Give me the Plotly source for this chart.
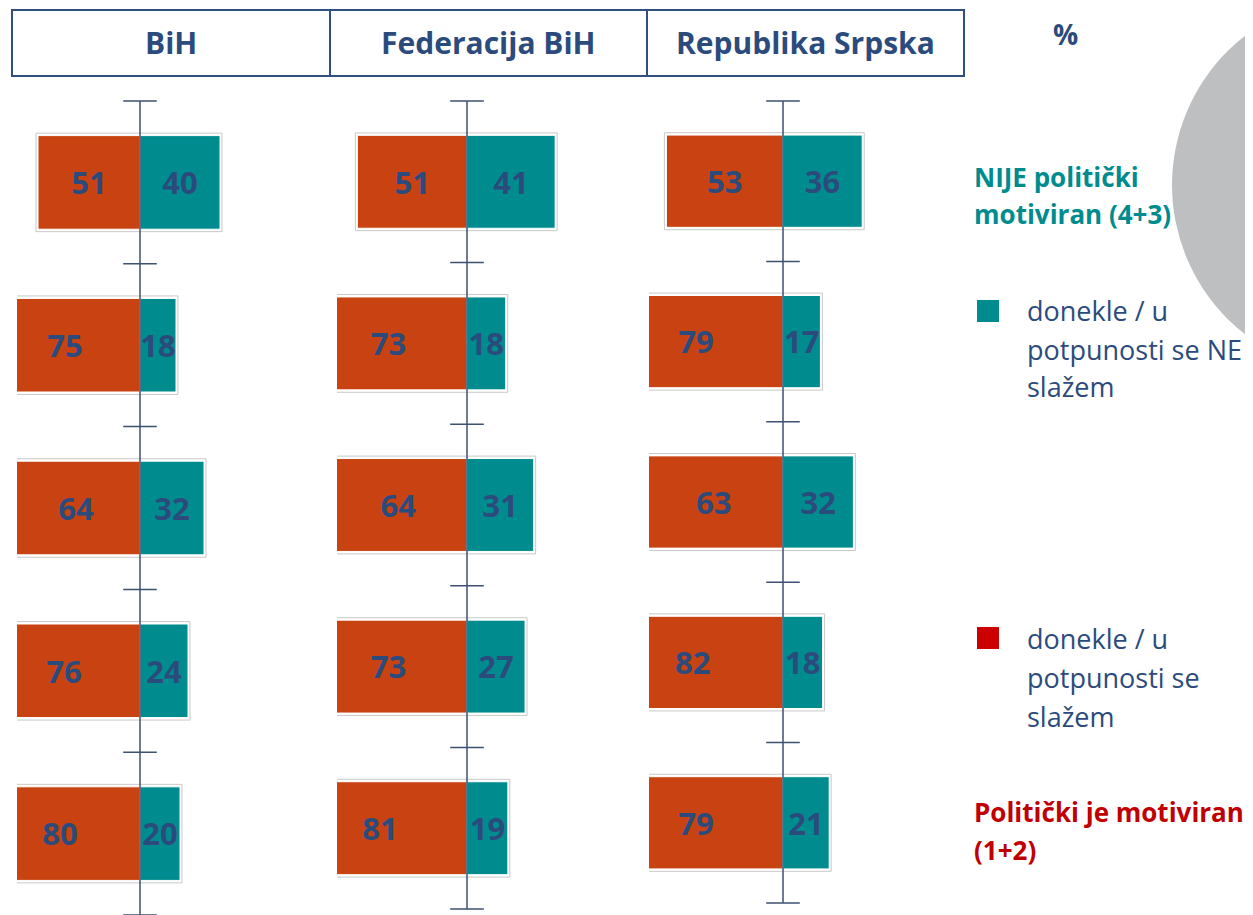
import plotly.graph_objects as go

W, H = 1253, 915
OFF = 8  # page body margin in the browser

# ---------------- data ----------------
regions = ["BiH", "Federacija BiH", "Republika Srpska"]
rows = [0, 1, 2, 3, 4]
agree = {
    "BiH": [51, 75, 64, 76, 80],
    "Federacija BiH": [51, 73, 64, 73, 81],
    "Republika Srpska": [53, 79, 63, 82, 79],
}
disagree = {
    "BiH": [40, 18, 32, 24, 20],
    "Federacija BiH": [41, 18, 31, 27, 19],
    "Republika Srpska": [36, 17, 32, 18, 21],
}
legend_teal_title = ["NIJE politički", "motiviran (4+3)"]
legend_teal_text = ["donekle / u", "potpunosti se NE", "slažem"]
legend_red_text = ["donekle / u", "potpunosti se", "slažem"]
legend_red_title = ["Politički je motiviran", "(1+2)"]

# ---------------- style ----------------
ORANGE = "#C84311"
TEAL = "#008C8E"
NAVY = "#2C4B7D"
AXIS = "#3D5170"
RED = "#C00000"
FONT = "Open Sans"

# panel geometry in pixels: (left, zero, right, bottom, px per unit)
panels = [
    (17, 140, 330, 915, 2.0),
    (337, 467, 647, 909, 2.15),
    (649, 783, 964, 903, 2.2),
]
TOP = 101
FW, FH = W - OFF, H - OFF
TEXT_DROP_PX = 4

def fx(px):
    return (px - OFF) / FW

def fy(py):
    return 1 - (py - OFF) / FH

fig = go.Figure()

for i, reg in enumerate(regions):
    left, zero, right, bottom, scale = panels[i]
    ax = "" if i == 0 else str(i + 1)
    xa, ya = "x" + ax, "y" + ax
    a = agree[reg]
    d = disagree[reg]
    pad = 2.0 / scale
    px_per_row = (bottom - TOP) / len(rows)
    dy = TEXT_DROP_PX / px_per_row
    # outline box
    fig.add_trace(go.Bar(
        orientation="h", y=rows, x=[p + q + 2 * pad for p, q in zip(a, d)],
        base=[-p - pad for p in a], width=0.605,
        marker=dict(color="white", line=dict(color="#C9C9C9", width=1)),
        xaxis=xa, yaxis=ya, showlegend=False, hoverinfo="skip"))
    fig.add_trace(go.Bar(
        orientation="h", y=rows, x=a, base=[-p for p in a], width=0.575,
        marker=dict(color=ORANGE, line=dict(color="white", width=1)),
        xaxis=xa, yaxis=ya, showlegend=False))
    fig.add_trace(go.Bar(
        orientation="h", y=rows, x=d, base=[0] * len(d), width=0.575,
        marker=dict(color=TEAL, line=dict(color="white", width=1)),
        xaxis=xa, yaxis=ya, showlegend=False))
    # axis line and ticks
    bounds = [r - 0.5 for r in rows] + [rows[-1] + 0.5]
    fig.add_trace(go.Scatter(
        x=[0, 0], y=[bounds[0], bounds[-1]], mode="lines",
        line=dict(color=AXIS, width=1.5), cliponaxis=False,
        xaxis=xa, yaxis=ya, showlegend=False, hoverinfo="skip"))
    fig.add_trace(go.Scatter(
        x=[0] * len(bounds), y=bounds, mode="markers",
        marker=dict(symbol="line-ew", size=24, line=dict(color=AXIS, width=1.5)),
        cliponaxis=False, xaxis=xa, yaxis=ya, showlegend=False, hoverinfo="skip"))
    # value labels
    fig.add_trace(go.Scatter(
        x=[-p / 2 for p in a] + [q / 2 for q in d], y=[r + dy for r in rows + rows],
        mode="text", text=[str(v) for v in a + d],
        textfont=dict(family=FONT, size=31, color=NAVY, weight="bold"),
        cliponaxis=False, xaxis=xa, yaxis=ya, showlegend=False, hoverinfo="skip"))

    xr = [(left - zero) / scale, (right - zero) / scale]
    fig.update_layout(**{
        "xaxis" + ax: dict(domain=[fx(left), fx(right)], range=xr, visible=False,
                           anchor=ya, fixedrange=True),
        "yaxis" + ax: dict(domain=[max(0, fy(bottom)), fy(TOP)], range=[4.5, -0.5],
                           visible=False, anchor=xa, fixedrange=True),
    })

shapes = []
# grey circle on the right
shapes.append(dict(type="circle", xref="paper", yref="paper",
                   x0=fx(1361 - 189), x1=fx(1361 + 189), y0=fy(185 + 189), y1=fy(185 - 189),
                   fillcolor="#BEBFC1", line=dict(width=0), layer="below"))
# header box
shapes.append(dict(type="rect", xref="paper", yref="paper",
                   x0=fx(12), x1=fx(964), y0=fy(76), y1=fy(10),
                   line=dict(color="#2F4F7F", width=2), fillcolor="rgba(0,0,0,0)"))
for xd in (330, 647):
    shapes.append(dict(type="line", xref="paper", yref="paper",
                       x0=fx(xd), x1=fx(xd), y0=fy(76), y1=fy(10),
                       line=dict(color="#2F4F7F", width=2)))
# legend squares
shapes.append(dict(type="rect", xref="paper", yref="paper",
                   x0=fx(977), x1=fx(999), y0=fy(322), y1=fy(300),
                   fillcolor=TEAL, line=dict(width=0)))
shapes.append(dict(type="rect", xref="paper", yref="paper",
                   x0=fx(977), x1=fx(999), y0=fy(649), y1=fy(627),
                   fillcolor="#CC0000", line=dict(width=0)))

ann = []
centers = [171, 488, 805]
for c, reg in zip(centers, regions):
    ann.append(dict(x=fx(c), y=fy(43), xref="paper", yref="paper", text="<b>%s</b>" % reg,
                    showarrow=False, xanchor="center", yanchor="middle",
                    font=dict(family=FONT, size=30, color=NAVY)))
ann.append(dict(x=fx(1065), y=fy(34), xref="paper", yref="paper", text="<b>%</b>",
                showarrow=False, xanchor="center", yanchor="middle",
                font=dict(family=FONT, size=28, color=NAVY)))

def add_lines(lines, x, y0, step, size, color, bold):
    for k, t in enumerate(lines):
        ann.append(dict(x=fx(x), y=fy(y0 + k * step), xref="paper", yref="paper",
                        text=("<b>%s</b>" % t) if bold else t, showarrow=False,
                        xanchor="left", yanchor="middle",
                        font=dict(family=FONT, size=size, color=color)))

add_lines(legend_teal_title, 972, 177, 37, 26, TEAL, True)
add_lines(legend_teal_text, 1025, 311, 38, 27, NAVY, False)
add_lines(legend_red_text, 1025, 638, 39, 27, NAVY, False)
add_lines(legend_red_title, 972, 812, 38, 26, RED, True)

fig.update_layout(
    width=FW, height=FH, autosize=False,
    margin=dict(l=0, r=0, t=0, b=0),
    paper_bgcolor="white", plot_bgcolor="rgba(0,0,0,0)",
    barmode="overlay", showlegend=False,
    shapes=shapes, annotations=ann,
)

fig.write_html("out.html", config={"displayModeBar": False})
